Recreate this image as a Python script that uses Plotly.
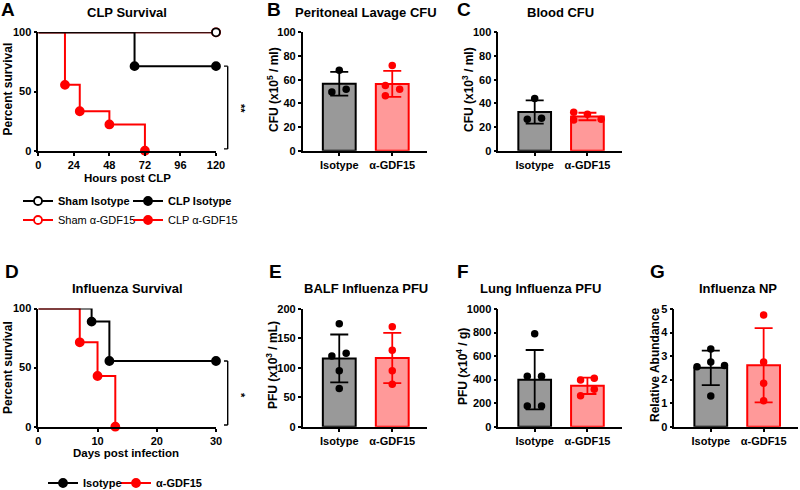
import numpy as np
import plotly.graph_objects as go

W, H = 800, 490

# ---------------- data ----------------
groups = ["Isotype", "α-GDF15"]

# A: CLP survival (hours post CLP, percent survival)
sham_iso_t = [0, 120]
sham_iso_s = [100, 100]
sham_gdf_t = [0, 120]
sham_gdf_s = [100, 100]
clp_iso_t = [0, 65, 120]
clp_iso_s = [100, 71.4, 71.4]
clp_gdf_t = [0, 18, 28, 48, 72]
clp_gdf_s = [100, 55.6, 33.3, 22.2, 0]

# D: Influenza survival (days post infection, percent survival)
flu_iso_t = [0, 9, 12, 30]
flu_iso_s = [100, 88.9, 55.6, 55.6]
flu_gdf_t = [0, 7, 10, 13]
flu_gdf_s = [100, 71.4, 42.9, 0]

# B-G: individual animals
lavage_iso = [68, 49.5, 52]
lavage_gdf = [72, 55, 52, 46.5]
blood_iso = [44, 26.5, 27.5]
blood_gdf = [32.4, 30.7, 25.9, 26.5]
balf_iso = [175, 120, 125, 95, 65]
balf_gdf = [170, 130, 95, 72]
lung_iso = [790, 428, 428, 176, 176]
lung_gdf = [397, 411, 263, 318]
np_iso = [3.3, 2.75, 2.55, 2.6, 1.3]
np_gdf = [4.75, 2.75, 1.85, 1.1]

# ---------------- styles ----------------
FONT = "Liberation Sans, Arial, sans-serif"
BLACK = "#000000"
RED = "#ff0000"
GRAY_FILL = "#999999"
PINK_FILL = "#ff9999"

def px_x(p):
    return p / W

def px_y(p):
    return 1 - p / H

# panel geometry (pixels): x0, x1, ytop, ybottom
geom = {
    1: (38.3, 216.0, 32.3, 150.7),   # A
    2: (302.7, 426.7, 32.3, 150.7),  # B
    3: (498.3, 621.7, 32.3, 150.7),  # C
    4: (38.3, 216.0, 308.5, 426.7),  # D
    5: (302.7, 426.7, 309.0, 426.7), # E
    6: (498.3, 621.7, 309.0, 426.7), # F
    7: (674.3, 798.0, 309.0, 426.7), # G
}

# jitter offsets for scatter points (category units)
jit = {
    2: ([0, -0.14, 0.13], [0, -0.13, 0.14, -0.13]),
    3: ([0, -0.14, 0.13], [-0.26, 0, -0.26, 0.26]),
    5: ([0, -0.14, 0.13, 0, 0], [0, 0, 0, 0]),
    6: ([0, -0.14, 0.13, -0.14, 0.13], [-0.13, 0.13, -0.13, 0.13]),
    7: ([0, 0, -0.26, 0.26, 0], [0, 0, 0, 0]),
}

fig = go.Figure()

def ax(n, kind):
    s = "" if n == 1 else str(n)
    return kind + s

# ---------- survival panels ----------
def surv(n, t, s, color, filled, name, legend, bold):
    xa, ya = ax(n, "x"), ax(n, "y")
    fig.add_trace(go.Scatter(x=t, y=s, mode="lines", line=dict(color=color, width=2, shape="hv"),
                             xaxis=xa, yaxis=ya, showlegend=False, cliponaxis=False, hoverinfo="skip"))
    fig.add_trace(go.Scatter(x=t[1:], y=s[1:], mode="markers",
                             marker=dict(size=8, color=color if filled else "white",
                                         line=dict(color=color, width=1.8)),
                             xaxis=xa, yaxis=ya, showlegend=False, cliponaxis=False))
    label = "<b>%s</b>" % name if bold else name
    fig.add_trace(go.Scatter(x=[None], y=[None], mode="lines+markers", name=label,
                             line=dict(color=color, width=2),
                             marker=dict(size=8, color=color if filled else "white",
                                         line=dict(color=color, width=1.8)),
                             xaxis=xa, yaxis=ya, showlegend=True, legend=legend))

surv(1, sham_gdf_t, sham_gdf_s, RED, False, "Sham α-GDF15", "legend3", False)
surv(1, clp_gdf_t, clp_gdf_s, RED, True, "CLP α-GDF15", "legend4", False)
surv(1, clp_iso_t, clp_iso_s, BLACK, True, "CLP Isotype", "legend2", True)
surv(1, sham_iso_t, sham_iso_s, BLACK, False, "Sham Isotype", "legend", True)

surv(4, flu_gdf_t, flu_gdf_s, RED, True, "α-GDF15", "legend6", True)
surv(4, flu_iso_t, flu_iso_s, BLACK, True, "Isotype", "legend5", True)

# ---------- bar panels ----------
def bars(n, iso, gdf):
    xa, ya = ax(n, "x"), ax(n, "y")
    for gi, (vals, fill, edge) in enumerate([(iso, GRAY_FILL, BLACK), (gdf, PINK_FILL, RED)]):
        v = np.array(vals, dtype=float)
        m = v.mean()
        sd = v.std(ddof=1)
        fig.add_trace(go.Bar(x=[gi], y=[m], width=0.62,
                             marker=dict(color=fill, line=dict(color=edge, width=2)),
                             error_y=dict(type="data", array=[sd], color=edge, thickness=1.8, width=9),
                             xaxis=xa, yaxis=ya, showlegend=False))
        offs = jit[n][gi]
        fig.add_trace(go.Scatter(x=[gi + o for o in offs], y=vals, mode="markers",
                                 marker=dict(size=7.5, color=edge),
                                 xaxis=xa, yaxis=ya, showlegend=False, cliponaxis=False))

bars(2, lavage_iso, lavage_gdf)
bars(3, blood_iso, blood_gdf)
bars(5, balf_iso, balf_gdf)
bars(6, lung_iso, lung_gdf)
bars(7, np_iso, np_gdf)

# ---------- axes ----------
tickfont = dict(family=FONT, size=11, color=BLACK, weight="bold")
common = dict(showline=True, linecolor=BLACK, linewidth=1.6, ticks="outside", ticklen=3,
              tickwidth=1.6, tickcolor=BLACK, showgrid=False, zeroline=False, tickfont=tickfont,
              fixedrange=True, automargin=False)

yranges = {1: (0, 100, [0, 50, 100]), 2: (0, 100, list(range(0, 101, 20))),
           3: (0, 100, list(range(0, 101, 20))), 4: (0, 100, [0, 50, 100]),
           5: (0, 200, list(range(0, 201, 50))), 6: (0, 1000, list(range(0, 1001, 200))),
           7: (0, 5, list(range(0, 6)))}

layout = {}
for n, (x0, x1, yt, yb) in geom.items():
    xs = "xaxis" if n == 1 else "xaxis%d" % n
    ys = "yaxis" if n == 1 else "yaxis%d" % n
    xdom = [px_x(x0), px_x(x1)]
    ydom = [px_y(yb), px_y(yt)]
    if n == 1:
        xcfg = dict(range=[0, 120], tickvals=[0, 24, 48, 72, 96, 120])
    elif n == 4:
        xcfg = dict(range=[0, 30], tickvals=[0, 10, 20, 30])
    else:
        xcfg = dict(range=[-0.69, 1.65], tickvals=[0, 1], ticktext=groups)
    lo, hi, tv = yranges[n]
    layout[xs] = dict(domain=xdom, anchor=ax(n, "y"), **xcfg, **common)
    layout[ys] = dict(domain=ydom, anchor=ax(n, "x"), range=[lo, hi], tickvals=tv, **common)

fig.update_layout(**layout)

# ---------- annotations ----------
ann = []

def text(x, y, s, size, angle=0):
    ann.append(dict(x=px_x(x), y=px_y(y), xref="paper", yref="paper", text="<b>%s</b>" % s,
                    showarrow=False, textangle=angle, xanchor="center", yanchor="middle",
                    font=dict(family=FONT, size=size, color=BLACK)))

# panel letters
for L, x, y in [("A", 8, 9), ("B", 274, 9), ("C", 464, 9), ("D", 12, 271.5), ("E", 275, 271.5),
                ("F", 463, 271.5), ("G", 657, 271)]:
    text(x, y, L, 19)

# titles
for s, x, y in [("CLP Survival", 127, 12.5), ("Peritoneal Lavage CFU", 365.5, 12.5),
                ("Blood CFU", 560.5, 12.5), ("Influenza Survival", 127.5, 288),
                ("BALF Influenza PFU", 366, 288), ("Lung Influenza PFU", 540, 288),
                ("Influenza NP", 737.5, 288)]:
    text(x, y, s, 13)

# axis titles
text(127, 178, "Hours post CLP", 11.5)
text(126.5, 453, "Days post infection", 11.5)
text(7.5, 89, "Percent survival", 12, angle=-90)
text(7.5, 367.5, "Percent survival", 12, angle=-90)
text(273, 90, "CFU (x10<sup>5</sup> / ml)", 12, angle=-90)
text(468, 90, "CFU (x10<sup>3</sup> / ml)", 12, angle=-90)
text(272, 365, "PFU (x10<sup>3</sup> / mL)", 12, angle=-90)
text(462, 367, "PFU (x10<sup>4</sup> / g)", 12, angle=-90)
text(655, 365, "Relative Abundance", 12, angle=-90)

# significance
text(241, 108, "**", 11, angle=90)
text(241, 395, "*", 11, angle=90)

# brackets
shapes = []
def bracket(yref, ytop, ybot):
    xv = px_x(227.7)
    xl = px_x(224)
    st = dict(color=BLACK, width=1.4)
    shapes.append(dict(type="line", xref="paper", yref=yref, x0=xv, x1=xv, y0=ybot, y1=ytop, line=st))
    shapes.append(dict(type="line", xref="paper", yref=yref, x0=xl, x1=xv, y0=ytop, y1=ytop, line=st))
    shapes.append(dict(type="line", xref="paper", yref=yref, x0=xl, x1=xv, y0=ybot, y1=ybot, line=st))

bracket("y", clp_iso_s[-1], 1.5)
bracket("y4", flu_iso_s[-1], 1.5)

legfont_b = dict(family=FONT, size=11, color=BLACK)
legfont = dict(family=FONT, size=11, color=BLACK)

def leg(xtext, ytext, font):
    return dict(x=px_x(xtext - 37), y=px_y(ytext), xanchor="left", yanchor="middle",
                orientation="h", font=font, bgcolor="rgba(0,0,0,0)", itemclick=False,
                itemdoubleclick=False)

fig.update_layout(
    width=W, height=H,
    margin=dict(l=0, r=0, t=0, b=0, autoexpand=False),
    paper_bgcolor="white", plot_bgcolor="white",
    font=dict(family=FONT, color=BLACK),
    annotations=ann, shapes=shapes,
    barmode="overlay",
    legend=leg(55, 201, legfont_b),
    legend2=leg(165, 201, legfont_b),
    legend3=leg(55, 220, legfont),
    legend4=leg(165, 220, legfont),
    legend5=leg(80, 483, legfont_b),
    legend6=leg(153, 483, legfont_b),
)

fig.write_html("out.html", config={"displayModeBar": False},
               post_script="document.body.style.margin='0';document.body.style.overflow='hidden';")
